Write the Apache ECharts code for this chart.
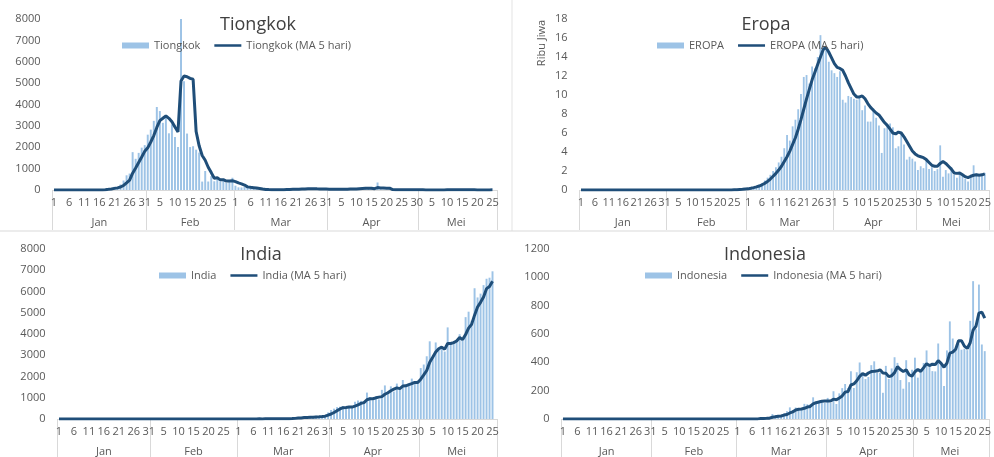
<!DOCTYPE html>
<html>
<head>
<meta charset="utf-8">
<script src="https://cdn.jsdelivr.net/npm/echarts@6/dist/echarts.min.js"></script>
<style>
html,body{margin:0;padding:0;background:#fff;}
#chart{width:994px;height:457px;}
</style>
</head>
<body>
<div id="chart"></div>
<script>
// ---- axis labels ----
const monthNames = ['Jan', 'Feb', 'Mar', 'Apr', 'Mei'];
const monthLengths = [31, 29, 31, 30, 26];

// ---- Tiongkok (daily, Jan 1 .. May 25) ----
const chinaDaily = [
0,0,0,0,0,0,0,0,0,0,0,0,0,0,0,
4,17,59,77,77,149,131,259,444,688,769,1771,1459,1737,1981,2099,
2589,2825,3235,3884,3694,3143,3385,2652,3073,2478,2015,15152,5090,2641,2009,2048,1886,1749,394,889,397,648,409,508,406,433,327,427,573,
202,125,119,139,143,99,44,40,19,24,15,8,11,20,16,21,13,34,39,41,46,39,78,47,67,55,54,45,31,48,36,
35,31,19,30,39,32,62,63,42,46,99,108,89,46,46,26,352,27,16,11,30,12,10,11,12,6,3,22,4,3,
12,2,3,1,2,1,2,14,1,17,5,1,4,4,16,5,7,6,3,5,2,5,4,11,7
];
const chinaMA = [
0,0,0,0,0,0,0,0,0,0,0,0,0,0,0,
1,4,16,31,47,76,99,139,212,334,458,786,1026,1285,1543,1809,
1973,2246,2546,2926,3245,3356,3468,3352,3189,2946,2721,5100,5330,5300,5220,5180,2735,2067,1617,1393,1063,815,547,570,474,481,417,420,433,
392,331,289,232,146,125,109,93,69,45,28,21,15,16,14,15,16,21,25,30,35,40,49,50,55,57,60,54,50,47,43,
39,36,34,30,31,30,36,45,48,49,62,72,77,78,78,63,112,99,93,86,87,19,16,15,15,10,8,11,9,8,
9,9,5,4,4,2,2,4,4,7,8,8,6,6,6,6,7,8,7,5,5,4,4,5,6
];

// ---- Eropa (ribu jiwa) ----
const europeDaily = [
0,0,0,0,0,0,0,0,0,0,0,0,0,0,0,0,0,0,0,0,0,0,0,0,0,0,0,0,0,0,0,
0,0,0,0,0,0,0,0,0,0,0,0,0,0,0,0,0,0,0,0,0,0,0,0,
0.03,0.04,0.06,0.09,0.12,
0.15,0.2,0.3,0.4,0.55,0.75,1.0,1.3,1.6,2.0,
2.4,2.9,3.5,4.4,5.8,5.2,6.7,7.4,8.5,10.1,
11.9,12.1,11.2,13.0,12.8,14.0,16.3,15.2,14.7,13.5,
12.6,12.3,11.9,12.5,9.5,9.2,9.9,9.8,9.6,9.5,
9.8,8.4,8.9,7.2,7.2,8.6,7.6,6.8,3.9,6.5,
6.9,7.0,6.6,4.4,4.6,5.9,4.8,3.2,3.5,3.3,
3.0,2.1,2.5,2.3,3.1,2.2,2.4,2.0,2.2,4.7,
1.4,2.1,1.75,2.4,1.6,1.3,1.8,1.5,1.2,0.9,
1.6,2.6,1.75,1.4,1.5,1.8
];
const europeMA = [
0,0,0,0,0,0,0,0,0,0,0,0,0,0,0,0,0,0,0,0,0,0,0,0,0,0,0,0,0,0,0,
0,0,0,0,0,0,0,0,0,0,0,0,0,0,0,0,0,0,0,0,0,0,0,0,
0.02,0.03,0.05,0.07,0.1,
0.12,0.18,0.25,0.33,0.42,0.55,0.7,0.9,1.15,1.45,
1.75,2.1,2.5,3.0,3.5,4.1,4.8,5.5,6.4,7.4,
8.5,9.6,10.6,11.6,12.4,13.2,14.0,14.8,15.0,14.5,
13.9,13.3,12.9,12.8,12.6,12.0,11.3,10.7,10.1,9.8,
9.8,9.9,9.6,9.1,8.7,8.4,8.1,7.9,7.5,7.1,
6.8,6.4,6.0,5.9,6.1,6.0,5.6,5.1,4.6,4.1,
3.8,3.6,3.5,3.4,3.2,2.9,2.6,2.5,2.5,2.8,
3.0,2.8,2.5,2.2,1.8,1.75,1.8,1.6,1.4,1.3,
1.45,1.55,1.6,1.55,1.6,1.7
];

// ---- India ----
const indiaDaily = [
0,0,0,0,0,0,0,0,0,0,0,0,0,0,0,0,0,0,0,0,0,0,0,0,0,0,0,0,0,0,0,
0,0,0,0,0,0,0,0,0,0,0,0,0,0,0,0,0,0,0,0,0,0,0,0,0,0,0,0,0,
0,1,1,22,2,1,3,5,9,15,8,10,10,11,10,14,25,20,30,58,78,69,94,74,86,73,153,136,120,187,309,
424,486,560,579,609,484,573,565,813,871,854,758,1243,1031,886,1061,922,1371,1580,1239,1537,1292,1667,1408,1835,1607,1568,1902,1705,1801,
2396,2564,2952,3656,2971,3602,3344,3339,3175,4311,3592,3562,3726,3991,3808,4794,5050,4628,6154,5720,5900,6300,6600,6650,6950
];
const indiaMA = [
0,0,0,0,0,0,0,0,0,0,0,0,0,0,0,0,0,0,0,0,0,0,0,0,0,0,0,0,0,0,0,
0,0,0,0,0,0,0,0,0,0,0,0,0,0,0,0,0,0,0,0,0,0,0,0,0,0,0,0,0,
0,0.2,0.4,4.8,5.2,5.4,5.8,6.6,4,6.6,8,9.4,10.4,10.8,9.8,11,14,16,19.8,29.4,42.2,51,65.8,74.6,80.2,79.2,96,104.4,113.6,133.8,181,
235,305,393,472,532,544,561,562,609,661,735,772,908,951,954,996,1029,1054,1164,1235,1330,1404,1463,1429,1548,1562,1617,1664,1723,1717,
1874,2074,2284,2674,2908,3149,3305,3382,3286,3554,3552,3596,3673,3836,3736,3976,4274,4454,4887,5269,5490,5740,6135,6234,6480
];

// ---- Indonesia ----
const indonesiaDaily = [
0,0,0,0,0,0,0,0,0,0,0,0,0,0,0,0,0,0,0,0,0,0,0,0,0,0,0,0,0,0,0,
0,0,0,0,0,0,0,0,0,0,0,0,0,0,0,0,0,0,0,0,0,0,0,0,0,0,0,0,0,
0,2,0,0,0,2,0,2,13,0,8,7,35,27,21,17,38,55,82,60,81,64,65,107,104,103,153,109,130,129,114,
149,113,196,106,181,218,247,218,337,219,330,399,316,282,297,380,407,325,327,185,375,283,357,436,396,275,214,415,260,347,
433,292,349,395,484,367,338,336,533,387,233,484,689,568,490,529,489,496,486,693,973,634,949,526,479
];
const indonesiaMA = [
0,0,0,0,0,0,0,0,0,0,0,0,0,0,0,0,0,0,0,0,0,0,0,0,0,0,0,0,0,0,0,
0,0,0,0,0,0,0,0,0,0,0,0,0,0,0,0,0,0,0,0,0,0,0,0,0,0,0,0,0,
0,0.4,0.4,0.4,0.4,0.8,0.4,0.8,3.4,3.4,4.6,6,12.6,15.4,19.6,21.4,27.6,31.6,42.6,50.4,63.2,68.4,70.4,75.4,84.2,88.6,106.4,115.2,119.8,124.8,127,
126.2,127,140.2,135.6,149,162.8,189.6,194,240.2,247.8,270.2,300.6,320.2,309.2,324.8,334.8,336.4,338.2,347.2,324.8,323.8,299,305.4,327.2,369.4,349.4,335.6,347.2,312,302.2,
333.8,349.4,336.2,363.2,390.6,377.4,386.6,384,411.6,392.2,365.4,394.6,465.2,472.2,492.8,552,553,514.4,498,538.6,627.4,656.4,747,755,712.2
];

// ---- build categories ----
const categories = [], dayLabel = [], monthOfIdx = [], monthStart = [], monthMid = [];
monthLengths.forEach(function (n, m) {
  monthStart.push(categories.length);
  monthMid.push(categories.length + Math.floor((n - 1) / 2));
  for (let d = 1; d <= n; d++) {
    categories.push(monthNames[m] + ' ' + d);
    dayLabel.push(String(d));
    monthOfIdx.push(m);
  }
});

const BAR_COLOR = '#9DC3E6';
const LINE_COLOR = '#1F4E79';
const TXT = '#595959';
const FONT = 'Open Sans';
const TITLE_SIZE = 18;
// thin line legend icon (bbox kept 30x6, filled band in the middle)
const LINE_ICON = 'path://M0,0L0.01,0L0,0.01Z M0,1.6L30,1.6L30,4.4L0,4.4Z M30,6L29.99,6L30,5.99Z';

const measureCtx = document.createElement('canvas').getContext('2d');
function textWidth(t, size) {
  measureCtx.font = size + 'px "' + FONT + '"';
  return measureCtx.measureText(t).width;
}

const panels = [
  { title: 'Tiongkok', barName: 'Tiongkok', lineName: 'Tiongkok (MA 5 hari)', bars: chinaDaily, ma: chinaMA,
    max: 8000, interval: 1000, grid: { left: 52.5, top: 19, width: 444.5, height: 171 },
    titleCenter: 258, titleTop: 16, legendPos: { left: 122, top: 40 } },
  { title: 'Eropa', barName: 'EROPA', lineName: 'EROPA (MA 5 hari)', bars: europeDaily, ma: europeMA,
    max: 18, interval: 2, grid: { left: 579.6, top: 19, width: 422, height: 171 },
    titleCenter: 766, titleTop: 16, legendPos: { left: 657, top: 40 } },
  { title: 'India', barName: 'India', lineName: 'India (MA 5 hari)', bars: indiaDaily, ma: indiaMA,
    max: 8000, interval: 1000, grid: { left: 57.5, top: 249, width: 439.5, height: 171 },
    titleCenter: 261, titleTop: 246, legendPos: { left: 159, top: 270 } },
  { title: 'Indonesia', barName: 'Indonesia', lineName: 'Indonesia (MA 5 hari)', bars: indonesiaDaily, ma: indonesiaMA,
    max: 1200, interval: 200, grid: { left: 561.5, top: 249, width: 436.6, height: 172 },
    titleCenter: 765, titleTop: 246, legendPos: { left: 645, top: 270 } }
];

const option = {
  backgroundColor: '#ffffff',
  animation: false,
  textStyle: { fontFamily: FONT },
  title: [], legend: [], grid: [], xAxis: [], yAxis: [], series: [],
  graphic: [
    { type: 'line', shape: { x1: 512, y1: 0, x2: 512, y2: 231 }, style: { stroke: '#e3e3e3', lineWidth: 1 } },
    { type: 'line', shape: { x1: 0, y1: 231, x2: 994, y2: 231 }, style: { stroke: '#d9d9d9', lineWidth: 1 } },
    { type: 'text', x: 542, y: 43, rotation: Math.PI / 2,
      style: { text: 'Ribu Jiwa', fill: TXT, font: '11px "Open Sans"', align: 'center', verticalAlign: 'middle' } }
  ]
};

panels.forEach(function (p, k) {
  option.title.push({
    text: p.title, left: p.titleCenter - textWidth(p.title, TITLE_SIZE) / 2, top: p.titleTop, padding: 0,
    textStyle: { fontFamily: FONT, fontSize: TITLE_SIZE, fontWeight: 'normal', color: '#404040' }
  });
  option.legend.push({
    left: p.legendPos.left, top: p.legendPos.top, padding: 0,
    itemWidth: 27, itemHeight: 6, itemGap: 14,
    textStyle: { fontFamily: FONT, fontSize: 11, color: TXT },
    data: [{ name: p.barName, icon: 'rect' }, { name: p.lineName, icon: LINE_ICON }]
  });
  option.grid.push(Object.assign({ containLabel: false }, p.grid));
  option.xAxis.push({
    type: 'category', gridIndex: k, data: categories, boundaryGap: true, position: 'bottom',
    axisLine: { show: true, lineStyle: { color: '#d9d9d9' } },
    axisTick: { show: false },
    axisLabel: { interval: 4, margin: 7, color: TXT, fontSize: 11, fontFamily: FONT,
      formatter: function (v, i) { return dayLabel[i]; } },
    splitLine: { show: false }
  });
  option.xAxis.push({
    type: 'category', gridIndex: k, data: categories, boundaryGap: true, position: 'bottom', offset: 0,
    axisLine: { show: false },
    axisTick: { show: true, length: 40, lineStyle: { color: '#d9d9d9' },
      interval: function (i) { return monthStart.indexOf(i) >= 0; } },
    axisLabel: { margin: 27, color: TXT, fontSize: 11, fontFamily: FONT,
      interval: function (i) { return monthMid.indexOf(i) >= 0; },
      formatter: function (v, i) { return monthNames[monthOfIdx[i]]; } },
    splitLine: { show: false }
  });
  option.yAxis.push({
    type: 'value', gridIndex: k, min: 0, max: p.max, interval: p.interval,
    axisLine: { show: false }, axisTick: { show: false }, splitLine: { show: false },
    axisLabel: { margin: 12, color: TXT, fontSize: 11, fontFamily: FONT,
      formatter: function (v) { return String(v); } }
  });
  option.series.push({
    name: p.barName, type: 'bar', xAxisIndex: 2 * k, yAxisIndex: k, data: p.bars,
    barWidth: '65%', clip: true, itemStyle: { color: BAR_COLOR }, z: 2
  });
  option.series.push({
    name: p.lineName, type: 'line', xAxisIndex: 2 * k, yAxisIndex: k, data: p.ma,
    symbol: 'none', showSymbol: false, clip: true,
    lineStyle: { color: LINE_COLOR, width: 3 }, itemStyle: { color: LINE_COLOR }, z: 3
  });
});

const chart = echarts.init(document.getElementById('chart'), null, { renderer: 'canvas' });
chart.setOption(option);
</script>
</body>
</html>
